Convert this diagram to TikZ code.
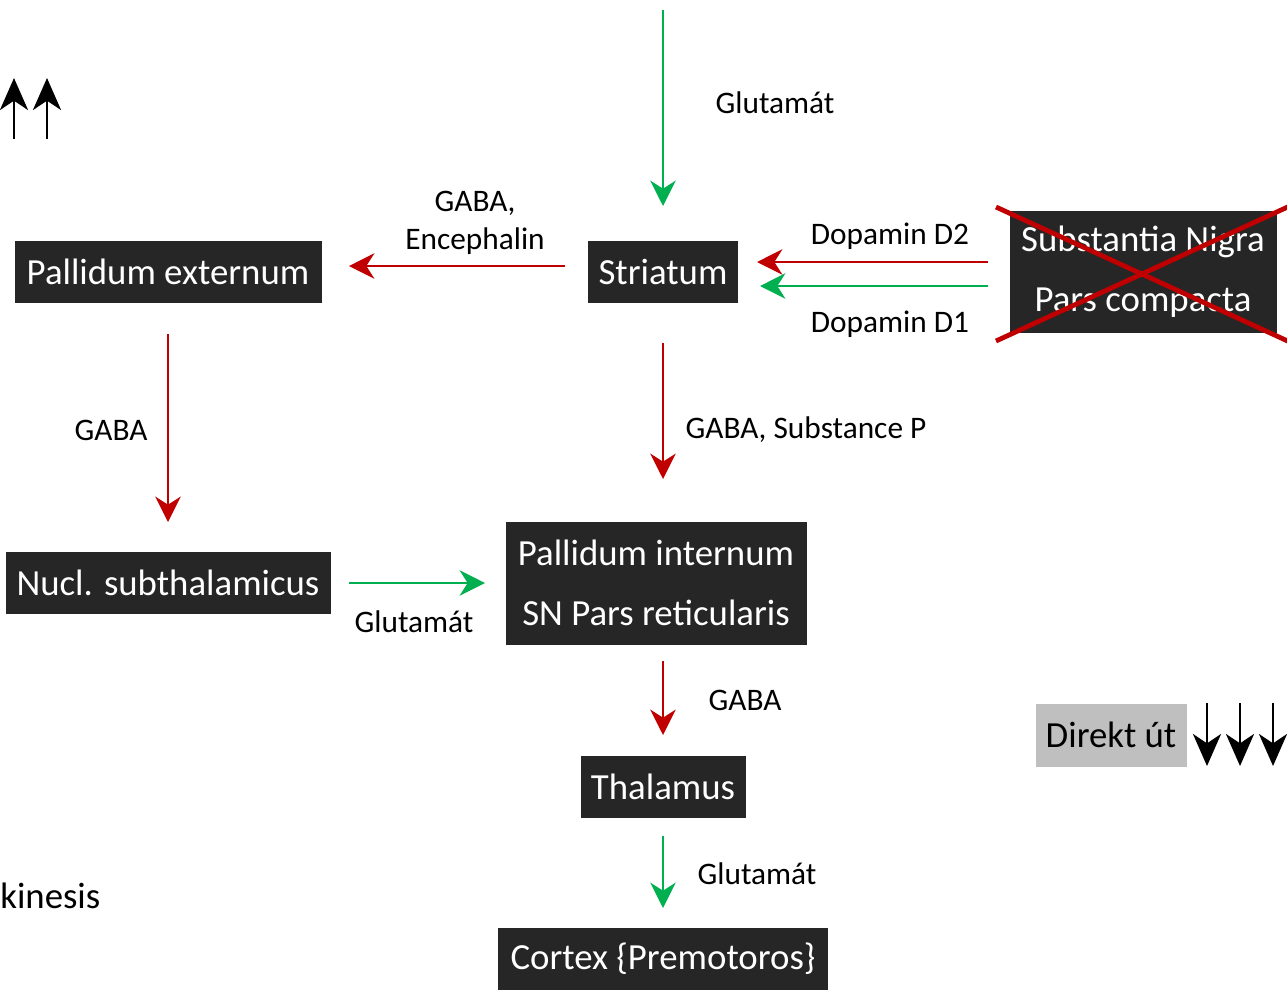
\documentclass[tikz,border=0pt]{standalone}
\usepackage{fontspec}
\setmainfont{Carlito}
\usetikzlibrary{arrows.meta}
\definecolor{boxbg}{HTML}{262626}
\definecolor{okgreen}{HTML}{00B050}
\definecolor{badred}{HTML}{C00000}
\definecolor{lightgray}{HTML}{BFBFBF}
\tikzset{
  box/.style={fill=boxbg, text=white, font=\fontsize{27.6}{45}\selectfont, minimum height=46.5pt, inner sep=0pt, align=center},
  lbl/.style={font=\fontsize{23.5}{29}\selectfont, inner sep=0pt, align=center},
  garrow/.style={draw=okgreen, line width=2.1pt, -{Stealth[length=19pt,width=19pt,inset=6pt]}},
  rarrow/.style={draw=badred, line width=2.1pt, -{Stealth[length=19pt,width=19pt,inset=6pt]}},
  karrow/.style={draw=black, line width=2.2pt, -{Stealth[length=24pt,width=21pt,inset=7pt]}},
}
\begin{document}
\begin{tikzpicture}[x=0.75pt,y=-0.75pt]
\useasboundingbox (0,0) rectangle (1287,990);
\clip (0,0) rectangle (1287,990);
% boxes
\node[box, minimum width=230.25pt] (pe) at (168,272) {Pallidum externum};
\node[box, minimum width=112.5pt] (st) at (663,272) {Striatum};
\node[box, minimum width=200.25pt, minimum height=91.5pt] (sn) at (1143,272) {Substantia Nigra\\Pars compacta};
\node[box, minimum width=243.75pt] (ns) at (168,583) {Nucl. subthalamicus};
\node[box, minimum width=225.75pt, minimum height=92.25pt] (pi) at (656,583) {Pallidum internum\\SN Pars reticularis};
\node[box, minimum width=123.75pt] (th) at (663,787) {Thalamus};
\node[box, minimum width=247.5pt] (cx) at (663,959) {Cortex \{Premotoros\}};
\node[box, fill=lightgray, text=black, minimum width=113.25pt, minimum height=47.25pt] (dk) at (1111,735) {Direkt út};
% red cross
\coordinate (x1) at (996,207);
\coordinate (x2) at (1292,343);
\coordinate (x3) at (996,341);
\coordinate (x4) at (1292,205);
\draw[badred, line width=3.6pt] (x1) -- (x2);
\draw[badred, line width=3.6pt] (x3) -- (x4);
% arrow coordinates
\coordinate (gtop) at (663,10);
\coordinate (gtopE) at (663,206);
\coordinate (spe1) at (565,266);
\coordinate (spe2) at (349,266);
\coordinate (d2a) at (988,262);
\coordinate (d2b) at (757,262);
\coordinate (d1a) at (988,286);
\coordinate (d1b) at (760,286);
\coordinate (sd1) at (663,343);
\coordinate (sd2) at (663,479);
\coordinate (ped1) at (168,334);
\coordinate (ped2) at (168,522);
\coordinate (nsr1) at (349,583);
\coordinate (nsr2) at (485,583);
\coordinate (pid1) at (663,661);
\coordinate (pid2) at (663,735);
\coordinate (thd1) at (663,836);
\coordinate (thd2) at (663,908);
\draw[garrow] (gtop) -- (gtopE);
\draw[rarrow] (spe1) -- (spe2);
\draw[rarrow] (d2a) -- (d2b);
\draw[garrow] (d1a) -- (d1b);
\draw[rarrow] (sd1) -- (sd2);
\draw[rarrow] (ped1) -- (ped2);
\draw[garrow] (nsr1) -- (nsr2);
\draw[rarrow] (pid1) -- (pid2);
\draw[garrow] (thd1) -- (thd2);
% black arrows
\coordinate (u1a) at (14,139); \coordinate (u1b) at (14,78);
\coordinate (u2a) at (47,139); \coordinate (u2b) at (47,78);
\draw[karrow] (u1a) -- (u1b);
\draw[karrow] (u2a) -- (u2b);
\coordinate (k1a) at (1207,703); \coordinate (k1b) at (1207,766);
\coordinate (k2a) at (1240,703); \coordinate (k2b) at (1240,766);
\coordinate (k3a) at (1273,703); \coordinate (k3b) at (1273,766);
\draw[karrow] (k1a) -- (k1b);
\draw[karrow] (k2a) -- (k2b);
\draw[karrow] (k3a) -- (k3b);
% labels
\node[lbl] (l1) at (775,103) {Glutamát};
\node[lbl] (l2) at (475,223) {GABA,\\[0pt]Encephalin};
\node[lbl] (l3) at (890,236) {Dopamin D2};
\node[lbl] (l4) at (890,324) {Dopamin D1};
\node[lbl] (l5) at (111,430) {GABA};
\node[lbl] (l6) at (806,430) {GABA, Substance P};
\node[lbl] (l7) at (414,622) {Glutamát};
\node[lbl] (l8) at (745,700) {GABA};
\node[lbl] (l9) at (757,874) {Glutamát};
\node[font=\fontsize{27.6}{33}\selectfont, inner sep=0pt, anchor=west] (kin) at (0,896) {kinesis};
\end{tikzpicture}
\end{document}
